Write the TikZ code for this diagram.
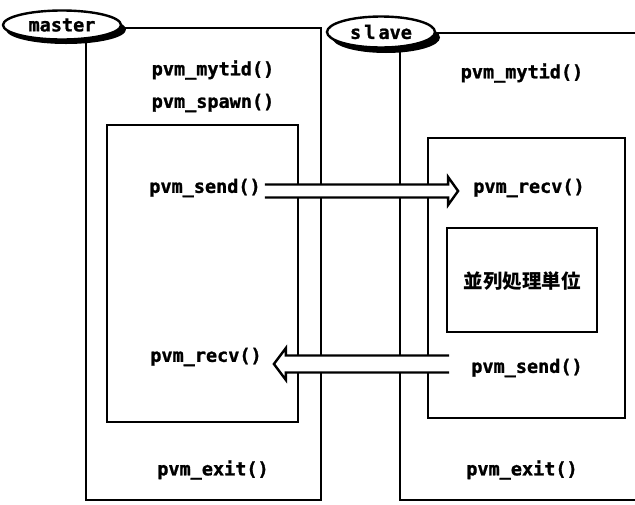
\documentclass[tikz,border=0pt]{standalone}
\usepackage{fontspec}
\newfontfamily\pvmfont{DejaVu Sans Mono}[FakeBold=1.2]
\newfontfamily\cjk{Noto Sans CJK JP}
\usetikzlibrary{shapes.geometric,calc}
\begin{document}
\begin{tikzpicture}[x=1pt,y=-1pt,
  box/.style={draw=black,line width=2.4pt},
  lbl/.style={font=\fontsize{18.5}{20}\selectfont\pvmfont\bfseries,inner sep=0pt},
  tag/.style={ellipse,draw=black,line width=2.4pt,fill=white,minimum width=118pt,minimum height=29pt,inner sep=0pt,font=\fontsize{18.5}{20}\selectfont\pvmfont\bfseries},
  fat/.style={line width=2.4pt}]
\useasboundingbox (0,0) rectangle (635,504);
% master outer box
\draw[box] (86,30) -- (86,500) -- (321,500) -- (321,28) -- (110,28);
% slave outer box
\draw[box] (400,36) -- (400,500) -- (635,500);
\draw[box] (420,33) -- (635,33);
% inner boxes
\draw[box] (107,125) rectangle (298,422);
\draw[box] (428,138) rectangle (625,418);
\node[box,minimum width=150pt,minimum height=104pt,inner sep=0pt] (unit) at (522,280) {};
\node[font=\fontsize{19.5}{22}\selectfont\cjk\bfseries] (unitt) at (522,281) {並列処理単位};
% tags with shadow
\fill[black] (66,29.5) ellipse (60pt and 14.5pt);
\node[tag] (master) at (62,25) {master};
\fill[black] (386,37.5) ellipse (54pt and 15.5pt);
\node[tag,minimum width=108pt,minimum height=31pt] (slave) at (381,32) {s\,l\,ave};
% labels
\node[lbl] (m1) at (213,70) {pvm\_mytid()};
\node[lbl] (m2) at (213,103) {pvm\_spawn()};
\node[lbl] (msend) at (205,188) {pvm\_send()};
\node[lbl] (mrecv) at (206,357) {pvm\_recv()};
\node[lbl] (mexit) at (213,470) {pvm\_exit()};
\node[lbl] (s1) at (522,73) {pvm\_mytid()};
\node[lbl] (srecv) at (529,188) {pvm\_recv()};
\node[lbl] (ssend) at (527,368) {pvm\_send()};
\node[lbl] (sexit) at (522,470) {pvm\_exit()};
% send arrow (master -> slave)
\coordinate (a0) at ($(msend.east)+(4,3)$);
\coordinate (a1) at ($(srecv.west)+(-15,3)$);
\fill[white] ($(a0)+(0,-6.5)$) -- ($(a1)+(-10,-6.5)$) -- ($(a1)+(-10,-14)$) -- (a1) -- ($(a1)+(-10,14)$) -- ($(a1)+(-10,6.5)$) -- ($(a0)+(0,6.5)$) -- cycle;
\draw[fat] ($(a0)+(0,-6.5)$) -- ($(a1)+(-10,-6.5)$) -- ($(a1)+(-10,-14)$) -- (a1) -- ($(a1)+(-10,14)$) -- ($(a1)+(-10,6.5)$) -- ($(a0)+(0,6.5)$);
% recv arrow (slave -> master)
\coordinate (b1) at ($(mrecv.east)+(12,7)$);
\coordinate (b0) at ($(ssend.west)+(-22,0)$);
\coordinate (b0) at (b0|-b1);
\fill[white] ($(b0)+(0,-8.5)$) -- ($(b1)+(12,-8.5)$) -- ($(b1)+(12,-16)$) -- (b1) -- ($(b1)+(12,16)$) -- ($(b1)+(12,8.5)$) -- ($(b0)+(0,8.5)$) -- cycle;
\draw[fat] ($(b0)+(0,-8.5)$) -- ($(b1)+(12,-8.5)$) -- ($(b1)+(12,-16)$) -- (b1) -- ($(b1)+(12,16)$) -- ($(b1)+(12,8.5)$) -- ($(b0)+(0,8.5)$);
\end{tikzpicture}
\end{document}
